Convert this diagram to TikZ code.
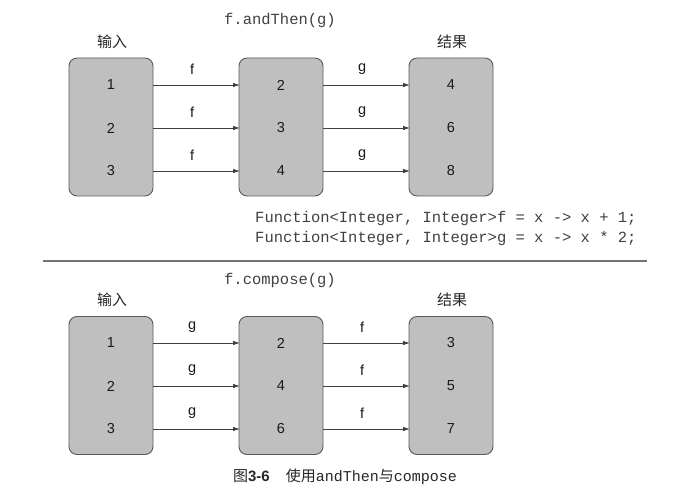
\documentclass[tikz,border=0pt]{standalone}
\usepackage{fontspec}
\setmainfont{Liberation Sans}
\newfontfamily\cjk{Noto Sans CJK SC}
\newfontfamily\codefont{Liberation Mono}
\usetikzlibrary{arrows.meta}
\begin{document}
\begin{tikzpicture}[x=1pt,y=-1pt,
  box/.style={draw=black!65, fill=black!25, rounded corners=8pt, line width=0.9pt, minimum width=84pt, minimum height=138pt, inner sep=0pt},
  num/.style={font=\fontsize{14.5}{16}\selectfont, text=black!90},
  lbl/.style={font=\fontsize{14.5}{16}\selectfont, text=black!90},
  conn/.style={draw=black!75, line width=0.8pt, -{Latex[length=7pt,width=4.5pt]}},
  code/.style={font=\codefont\fontsize{15.5}{18}\selectfont, text=black!75, inner sep=0pt},
  head/.style={font=\cjk\fontsize{15}{18}\selectfont, text=black!85}]
\useasboundingbox (0,0) rectangle (673,500);
% top section
\node[code] (t1) at (280,20) {f.andThen(g)};
\node[head] (in1) at (112,42) {输入};
\node[head] (out1) at (452,42) {结果};
\node[box] (A1) at (111,127) {};
\node[box] (B1) at (281,127) {};
\node[box] (C1) at (451,127) {};
\foreach \y/\a/\b/\c [count=\i] in {85/1/2/4, 128/2/3/6, 171/3/4/8} {
  \node[num] (a1\i) at (111,\y) {\a};
  \node[num] (b1\i) at (281,\y) {\b};
  \node[num] (c1\i) at (451,\y) {\c};
  \coordinate (p1\i) at (153,\y);
  \coordinate (q1\i) at (240,\y);
  \coordinate (r1\i) at (323,\y);
  \coordinate (s1\i) at (410,\y);
  \draw[conn] (p1\i) -- node[lbl, pos=0.45, above=7pt] {f} (q1\i);
  \draw[conn] (r1\i) -- node[lbl, pos=0.45, above=7pt] {g} (s1\i);
}
\node[code, anchor=west] (cf) at (255,218) {Function<Integer, Integer>f = x -> x + 1;};
\node[code, anchor=west] (cg) at (255,238) {Function<Integer, Integer>g = x -> x * 2;};
\coordinate (l1) at (43,261);
\coordinate (l2) at (647,261);
\draw[black!55, line width=1.5pt] (l1) -- (l2);
% bottom section
\node[code] (t2) at (280,280) {f.compose(g)};
\node[head] (in2) at (112,300) {输入};
\node[head] (out2) at (452,300) {结果};
\node[box] (A2) at (111,385.5) {};
\node[box] (B2) at (281,385.5) {};
\node[box] (C2) at (451,385.5) {};
\foreach \y/\a/\b/\c [count=\i] in {343/1/2/3, 386/2/4/5, 429/3/6/7} {
  \node[num] (a2\i) at (111,\y) {\a};
  \node[num] (b2\i) at (281,\y) {\b};
  \node[num] (c2\i) at (451,\y) {\c};
  \coordinate (p2\i) at (153,\y);
  \coordinate (q2\i) at (240,\y);
  \coordinate (r2\i) at (323,\y);
  \coordinate (s2\i) at (410,\y);
  \draw[conn] (p2\i) -- node[lbl, pos=0.45, above=7pt] {g} (q2\i);
  \draw[conn] (r2\i) -- node[lbl, pos=0.45, above=7pt] {f} (s2\i);
}
\node[inner sep=0pt, text=black!85] (cap) at (345,477) {{\cjk\fontsize{15}{18}\selectfont 图}{\fontsize{15}{18}\selectfont\bfseries 3-6}\hspace{16pt}{\cjk\fontsize{15}{18}\selectfont 使用}{\codefont\fontsize{15}{18}\selectfont andThen}{\cjk\fontsize{15}{18}\selectfont 与}{\codefont\fontsize{15}{18}\selectfont compose}};
\end{tikzpicture}
\end{document}
